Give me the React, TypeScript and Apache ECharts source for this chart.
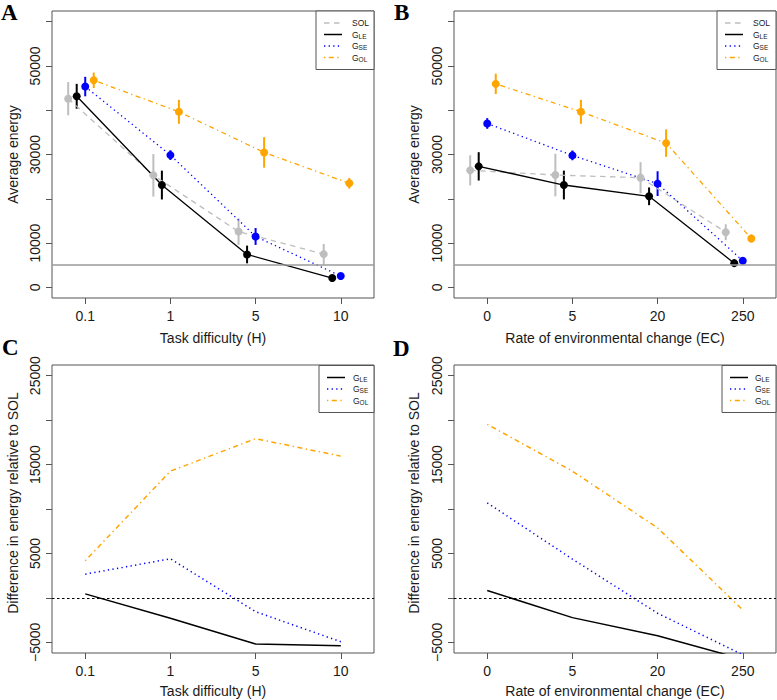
import React, { useEffect, useRef } from 'react';
import * as echarts from 'echarts';

// ---------- data ----------
const TASK_LABELS = ['0.1', '1', '5', '10'];
const ENV_LABELS = ['0', '5', '20', '250'];

// Panel A: average energy vs task difficulty (H)
const A_SOL = [42600, 25300, 12600, 7500];
const A_SOL_ERR = [3750, 4800, 3000, 2300];
const A_GLE = [43150, 23100, 7430, 2100];
const A_GLE_ERR = [2800, 3250, 2000, 450];
const A_GSE = [45340, 29860, 11490, 2550];
const A_GSE_ERR = [2200, 1100, 1900, 450];
const A_GOL = [46760, 39640, 30470, 23490];
const A_GOL_ERR = [1750, 2700, 3450, 1200];

// Panel B: average energy vs rate of environmental change (EC)
const B_SOL = [26420, 25360, 24770, 12450];
const B_SOL_ERR = [3400, 4800, 3500, 1800];
const B_GLE = [27320, 23110, 20560, 5470];
const B_GLE_ERR = [3200, 3250, 2000, 400];
const B_GSE = [37000, 29800, 23420, 6000];
const B_GSE_ERR = [1200, 1100, 2800, 400];
const B_GOL = [45950, 39640, 32570, 11040];
const B_GOL_ERR = [2300, 2700, 3100, 900];

// Panel C: difference relative to SOL vs task difficulty
const C_GLE = [450, -2290, -5190, -5380];
const C_GSE = [2670, 4400, -1550, -4930];
const C_GOL = [4170, 14260, 17910, 15950];

// Panel D: difference relative to SOL vs EC
const D_GLE = [830, -2220, -4250, -6900];
const D_GSE = [10690, 4370, -1730, -6400];
const D_GOL = [19530, 14260, 7870, -1350];

const THRESHOLD = 5000;
const ENERGY_TICKS = [0, 10000, 20000, 30000, 40000, 50000, 60000];
const ENERGY_LABELS = [0, 10000, 30000, 50000];
const DIFF_TICKS = [-5000, 0, 5000, 10000, 15000, 20000, 25000];
const DIFF_LABELS = [-5000, 5000, 15000, 25000];
const POSITIONS = [1, 2, 3, 4];

// ---------- styles ----------
const FONT = '"Liberation Sans", Arial, Helvetica, sans-serif';
const SERIF = '"Liberation Serif", "Times New Roman", serif';
const FRAME = '#555555';

type GroupKey = 'SOL' | 'GLE' | 'GSE' | 'GOL';
const GSTYLE: Record<GroupKey, { color: string; dash: any; offset: number; width: number; sub: string }> = {
  SOL: { color: '#BEBEBE', dash: [5.5, 4.5], offset: -0.2, width: 1.3, sub: '' },
  GLE: { color: '#000000', dash: 'solid', offset: -0.1, width: 1.3, sub: 'LE' },
  GSE: { color: '#0000FF', dash: [1.3, 3.3], offset: 0, width: 1.3, sub: 'SE' },
  GOL: { color: '#FFA500', dash: [1.3, 3.5, 5, 3.5], offset: 0.1, width: 1.3, sub: 'OL' },
};

const GRIDS = [
  { left: 52, top: 11, width: 322, height: 287 },
  { left: 454, top: 11, width: 322, height: 287 },
  { left: 52, top: 365, width: 322, height: 288 },
  { left: 454, top: 365, width: 322, height: 288 },
];

const minusFmt = (v: number) => (v < 0 ? '\u2212' + Math.abs(v) : String(v));

function xAxis(gridIndex: number, labels: string[]) {
  return {
    type: 'value',
    gridIndex,
    min: 0.61,
    max: 4.39,
    axisLine: { show: false, onZero: false },
    splitLine: { show: false },
    axisTick: { show: true, customValues: POSITIONS, length: 6, lineStyle: { color: FRAME, width: 1 } },
    axisLabel: {
      customValues: POSITIONS,
      formatter: (v: number) => labels[Math.round(v) - 1],
      fontSize: 14,
      fontFamily: FONT,
      color: '#1a1a1a',
      margin: 11,
    },
  };
}

function yAxis(gridIndex: number, min: number, max: number, ticks: number[], labels: number[]) {
  return {
    type: 'value',
    gridIndex,
    min,
    max,
    axisLine: { show: false, onZero: false },
    splitLine: { show: false },
    axisTick: { show: true, customValues: ticks, length: 6, lineStyle: { color: FRAME, width: 1 } },
    axisLabel: {
      customValues: labels,
      formatter: minusFmt,
      rotate: 90,
      fontSize: 14,
      fontFamily: FONT,
      color: '#1a1a1a',
      margin: 10,
    },
  };
}

function energySeries(gi: number, key: GroupKey, vals: number[], errs: number[]) {
  const s = GSTYLE[key];
  const pts = vals.map((v, i) => [POSITIONS[i] + s.offset, v]);
  const bars = vals.map((v, i) => [POSITIONS[i] + s.offset, v - errs[i], v + errs[i]]);
  return [
    {
      type: 'custom',
      xAxisIndex: gi,
      yAxisIndex: gi,
      silent: true,
      z: 2,
      encode: { x: 0, y: [1, 2] },
      data: bars,
      renderItem: (params: any, api: any) => {
        const x = api.value(0);
        const lo = api.coord([x, api.value(1)]);
        const hi = api.coord([x, api.value(2)]);
        return {
          type: 'line',
          shape: { x1: lo[0], y1: lo[1], x2: hi[0], y2: hi[1] },
          style: { stroke: s.color, lineWidth: 2 },
        };
      },
    },
    {
      type: 'line',
      xAxisIndex: gi,
      yAxisIndex: gi,
      silent: true,
      z: 3,
      data: pts,
      symbol: 'circle',
      symbolSize: 8,
      showSymbol: true,
      itemStyle: { color: s.color, borderWidth: 0 },
      lineStyle: { color: s.color, width: s.width, type: s.dash },
    },
  ];
}

function diffSeries(gi: number, key: GroupKey, vals: number[]) {
  const s = GSTYLE[key];
  return {
    type: 'line',
    xAxisIndex: gi,
    yAxisIndex: gi,
    silent: true,
    z: 3,
    clip: true,
    data: vals.map((v, i) => [POSITIONS[i], v]),
    symbol: 'none',
    lineStyle: { color: s.color, width: 1.5, type: s.dash },
  };
}

function refLine(gi: number, value: number, color: string, type: any, width: number) {
  return {
    type: 'line',
    xAxisIndex: gi,
    yAxisIndex: gi,
    silent: true,
    z: 1,
    data: [],
    markLine: {
      silent: true,
      symbol: ['none', 'none'],
      label: { show: false },
      lineStyle: { color, type, width },
      data: [{ yAxis: value }],
    },
  };
}

function legend(left: number, top: number, right: number, keys: GroupKey[], textOff: number) {
  const rowGap = 11.5;
  const pad = 12;
  const height = pad * 2 + rowGap * (keys.length - 1);
  const children: any[] = [
    {
      type: 'rect',
      shape: { x: left, y: top, width: right - left, height },
      style: { fill: '#ffffff', stroke: FRAME, lineWidth: 1 },
    },
  ];
  keys.forEach((k, i) => {
    const s = GSTYLE[k];
    const y = top + pad + i * rowGap;
    children.push({
      type: 'line',
      shape: { x1: left + 8, y1: y, x2: left + 26, y2: y },
      style: {
        stroke: s.color,
        lineWidth: k === 'GLE' ? 1.5 : 1.3,
        lineDash: Array.isArray(s.dash) ? s.dash : null,
      },
    });
    children.push({
      type: 'text',
      x: left + textOff,
      y,
      style: {
        text: k === 'SOL' ? 'SOL' : 'G{s|' + s.sub + '}',
        rich: { s: { fontSize: 6.5, fontFamily: FONT, fill: '#1a1a1a', verticalAlign: 'bottom', lineHeight: 6 } },
        fontSize: 8.5,
        lineHeight: 10,
        fontFamily: FONT,
        fill: '#1a1a1a',
        align: 'left',
        verticalAlign: 'middle',
      },
    });
  });
  return { type: 'group', z: 100, children };
}

function label(text: string, x: number, y: number, rotate: boolean, size = 14) {
  return {
    type: 'text',
    x,
    y,
    rotation: rotate ? Math.PI / 2 : 0,
    z: 100,
    style: {
      text,
      fontSize: size,
      fontFamily: FONT,
      fill: '#1a1a1a',
      align: 'center',
      verticalAlign: 'middle',
    },
  };
}

function letter(text: string, x: number, y: number) {
  return {
    type: 'text',
    x,
    y,
    z: 100,
    style: {
      text,
      fontSize: 23,
      fontWeight: 'bold',
      fontFamily: SERIF,
      fill: '#000',
      align: 'left',
      verticalAlign: 'middle',
    },
  };
}

export default function App() {
  const ref = useRef<HTMLDivElement>(null);
  useEffect(() => {
    if (!ref.current) return;
    const chart = echarts.init(ref.current, undefined, { renderer: 'svg' });
    const option: any = {
      animation: false,
      backgroundColor: '#ffffff',
      grid: GRIDS.map((g) => ({ ...g, show: true, borderColor: FRAME, borderWidth: 1, backgroundColor: 'transparent' })),
      xAxis: [xAxis(0, TASK_LABELS), xAxis(1, ENV_LABELS), xAxis(2, TASK_LABELS), xAxis(3, ENV_LABELS)],
      yAxis: [
        yAxis(0, -2400, 62400, ENERGY_TICKS, ENERGY_LABELS),
        yAxis(1, -2400, 62400, ENERGY_TICKS, ENERGY_LABELS),
        yAxis(2, -6200, 26200, DIFF_TICKS, DIFF_LABELS),
        yAxis(3, -6200, 26200, DIFF_TICKS, DIFF_LABELS),
      ],
      series: [
        refLine(0, THRESHOLD, '#9a9a9a', 'solid', 1.5),
        ...energySeries(0, 'SOL', A_SOL, A_SOL_ERR),
        ...energySeries(0, 'GLE', A_GLE, A_GLE_ERR),
        ...energySeries(0, 'GSE', A_GSE, A_GSE_ERR),
        ...energySeries(0, 'GOL', A_GOL, A_GOL_ERR),
        refLine(1, THRESHOLD, '#9a9a9a', 'solid', 1.5),
        ...energySeries(1, 'SOL', B_SOL, B_SOL_ERR),
        ...energySeries(1, 'GLE', B_GLE, B_GLE_ERR),
        ...energySeries(1, 'GSE', B_GSE, B_GSE_ERR),
        ...energySeries(1, 'GOL', B_GOL, B_GOL_ERR),
        refLine(2, 0, '#000000', [2.5, 2.5], 1),
        diffSeries(2, 'GLE', C_GLE),
        diffSeries(2, 'GSE', C_GSE),
        diffSeries(2, 'GOL', C_GOL),
        refLine(3, 0, '#000000', [2.5, 2.5], 1),
        diffSeries(3, 'GLE', D_GLE),
        diffSeries(3, 'GSE', D_GSE),
        diffSeries(3, 'GOL', D_GOL),
      ],
      graphic: [
        letter('A', 1, 12.5),
        letter('B', 394, 12),
        letter('C', 2, 347),
        letter('D', 393, 348),
        label('Average energy', 12.5, 154.5, true),
        label('Average energy', 414, 154.5, true),
        label('Difference in energy relative to SOL', 12.5, 503, true),
        label('Difference in energy relative to SOL', 414, 503, true),
        label('Task difficulty (H)', 213, 338, false),
        label('Rate of environmental change (EC)', 615, 338, false),
        label('Task difficulty (H)', 213, 691, false),
        label('Rate of environmental change (EC)', 615, 691, false),
        legend(316, 11, 374, ['SOL', 'GLE', 'GSE', 'GOL'], 36),
        legend(717, 11, 776, ['SOL', 'GLE', 'GSE', 'GOL'], 36),
        legend(319, 365.5, 374, ['GLE', 'GSE', 'GOL'], 34),
        legend(722, 365.5, 776, ['GLE', 'GSE', 'GOL'], 33),
      ],
    };
    chart.setOption(option);
    return () => chart.dispose();
  }, []);
  return <div ref={ref} style={{ position: 'absolute', left: 0, top: 0, width: 777, height: 700 }} />;
}
